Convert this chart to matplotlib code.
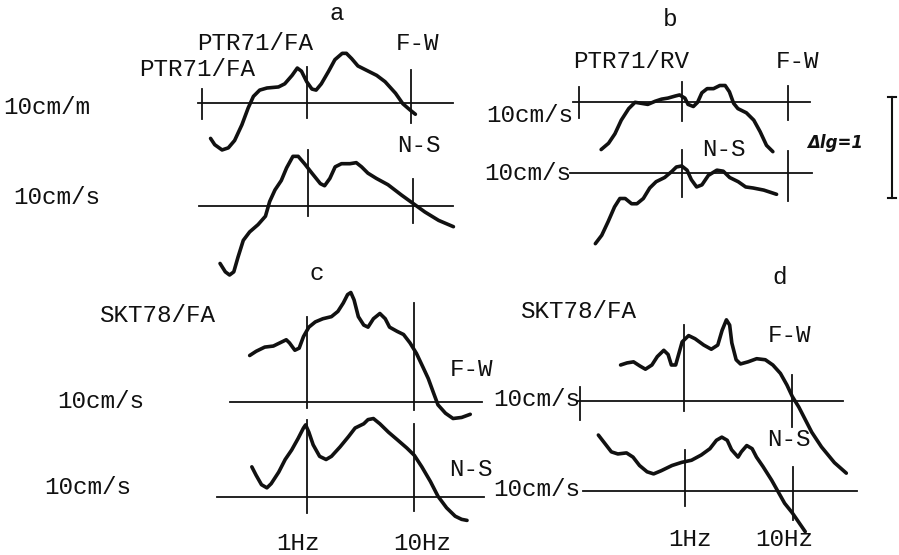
import matplotlib
matplotlib.use("Agg")
import matplotlib.pyplot as plt

W, H = 899, 555
PX_PER_LG = 105          # pixels per lg unit of amplitude
FONT = "Liberation Mono"
INK = "#111111"

# spectra: lg(f / 1 Hz) and lg(A / reference level)
a_fw_lgf = [-0.92, -0.88, -0.81, -0.75, -0.69, -0.62, -0.56, -0.51, -0.45, -0.38,
            -0.27, -0.21, -0.14, -0.09, -0.05, 0.00, 0.05, 0.09, 0.14, 0.21,
            0.27, 0.34, 0.38, 0.43, 0.49, 0.59, 0.67, 0.75, 0.85, 0.92, 0.99, 1.04]
a_fw_lga = [-0.34, -0.40, -0.45, -0.43, -0.36, -0.21, -0.05, 0.06, 0.12, 0.14,
            0.15, 0.18, 0.26, 0.33, 0.30, 0.20, 0.13, 0.12, 0.18, 0.30,
            0.41, 0.47, 0.47, 0.42, 0.35, 0.30, 0.26, 0.20, 0.09, -0.01, -0.07, -0.11]

a_ns_lgf = [-0.83, -0.78, -0.74, -0.70, -0.66, -0.61, -0.55, -0.47, -0.40, -0.36,
            -0.31, -0.25, -0.20, -0.14, -0.09, -0.03, 0.04, 0.12, 0.16, 0.21,
            0.26, 0.32, 0.40, 0.46, 0.51, 0.57, 0.65, 0.76, 0.89, 1.00, 1.11, 1.24, 1.38]
a_ns_lga = [-0.55, -0.63, -0.66, -0.63, -0.49, -0.33, -0.25, -0.18, -0.10, 0.04,
            0.15, 0.24, 0.36, 0.47, 0.47, 0.40, 0.31, 0.21, 0.19, 0.26,
            0.37, 0.40, 0.40, 0.41, 0.37, 0.31, 0.26, 0.20, 0.10, 0.02, -0.06, -0.14, -0.20]

b_fw_lgf = [-0.76, -0.69, -0.63, -0.57, -0.50, -0.44, -0.38, -0.32, -0.25, -0.19,
            -0.13, -0.06, -0.02, 0.03, 0.06, 0.11, 0.15, 0.19, 0.24, 0.30,
            0.36, 0.41, 0.45, 0.49, 0.53, 0.61, 0.68, 0.74, 0.80, 0.86]
b_fw_lga = [-0.45, -0.39, -0.30, -0.17, -0.06, 0.00, -0.01, -0.02, 0.01, 0.03,
            0.04, 0.06, 0.07, 0.04, -0.02, -0.04, 0.00, 0.09, 0.13, 0.13,
            0.16, 0.16, 0.10, -0.01, -0.06, -0.10, -0.17, -0.28, -0.41, -0.47]

b_ns_lgf = [-0.81, -0.75, -0.69, -0.63, -0.58, -0.53, -0.47, -0.42, -0.36, -0.30,
            -0.24, -0.16, -0.09, -0.05, 0.00, 0.05, 0.09, 0.14, 0.19, 0.25,
            0.33, 0.39, 0.45, 0.53, 0.60, 0.67, 0.77, 0.83, 0.89]
b_ns_lga = [-0.67, -0.59, -0.46, -0.32, -0.24, -0.24, -0.29, -0.29, -0.24, -0.14,
            -0.08, -0.04, 0.02, 0.06, 0.07, 0.03, -0.06, -0.13, -0.11, -0.02,
            0.03, 0.02, -0.04, -0.08, -0.13, -0.14, -0.16, -0.18, -0.20]

c_fw_lgf = [-0.53, -0.47, -0.39, -0.31, -0.25, -0.19, -0.16, -0.11, -0.07, -0.03,
            0.02, 0.08, 0.15, 0.23, 0.29, 0.34, 0.38, 0.41, 0.44, 0.48,
            0.53, 0.57, 0.62, 0.68, 0.73, 0.77, 0.84, 0.90, 0.96, 1.02,
            1.08, 1.13, 1.18, 1.22, 1.29, 1.36, 1.44, 1.52]
c_fw_lga = [0.44, 0.48, 0.52, 0.53, 0.56, 0.59, 0.56, 0.49, 0.51, 0.62,
            0.71, 0.76, 0.79, 0.81, 0.86, 0.94, 1.02, 1.04, 0.97, 0.81,
            0.73, 0.71, 0.79, 0.84, 0.79, 0.71, 0.67, 0.64, 0.56, 0.46,
            0.33, 0.22, 0.08, -0.03, -0.11, -0.16, -0.15, -0.12]

c_ns_lgf = [-0.51, -0.47, -0.42, -0.37, -0.33, -0.26, -0.20, -0.14, -0.08, -0.03,
            -0.01, 0.02, 0.06, 0.12, 0.18, 0.23, 0.31, 0.39, 0.45, 0.53,
            0.57, 0.62, 0.68, 0.76, 0.84, 0.93, 1.00, 1.07, 1.15, 1.22,
            1.30, 1.38, 1.44, 1.49]
c_ns_lga = [0.29, 0.21, 0.12, 0.09, 0.13, 0.24, 0.36, 0.45, 0.56, 0.66,
            0.69, 0.62, 0.50, 0.39, 0.36, 0.39, 0.48, 0.58, 0.66, 0.70,
            0.74, 0.75, 0.70, 0.62, 0.55, 0.47, 0.40, 0.29, 0.15, 0.01,
            -0.10, -0.18, -0.21, -0.22]

d_fw_lgf = [-0.59, -0.53, -0.47, -0.41, -0.36, -0.30, -0.25, -0.19, -0.15, -0.12,
            -0.08, -0.05, -0.02, 0.04, 0.10, 0.18, 0.25, 0.31, 0.35, 0.39,
            0.42, 0.44, 0.48, 0.52, 0.59, 0.67, 0.75, 0.82, 0.89, 0.95,
            1.00, 1.06, 1.12, 1.18, 1.27, 1.39, 1.50]
d_fw_lga = [0.34, 0.36, 0.37, 0.33, 0.30, 0.34, 0.42, 0.48, 0.44, 0.34,
            0.34, 0.45, 0.56, 0.62, 0.59, 0.53, 0.49, 0.53, 0.67, 0.77,
            0.72, 0.55, 0.39, 0.35, 0.37, 0.40, 0.39, 0.34, 0.26, 0.15,
            0.04, -0.06, -0.18, -0.30, -0.44, -0.59, -0.69]

d_ns_lgf = [-0.80, -0.74, -0.68, -0.62, -0.54, -0.48, -0.42, -0.35, -0.29, -0.22,
            -0.12, -0.03, 0.06, 0.15, 0.23, 0.29, 0.34, 0.39, 0.43, 0.49,
            0.52, 0.57, 0.62, 0.66, 0.72, 0.80, 0.86, 0.92, 0.99, 1.05, 1.11]
d_ns_lga = [0.53, 0.45, 0.37, 0.35, 0.36, 0.32, 0.24, 0.18, 0.16, 0.19,
            0.24, 0.27, 0.29, 0.34, 0.40, 0.48, 0.51, 0.48, 0.39, 0.32,
            0.37, 0.43, 0.40, 0.32, 0.23, 0.10, -0.01, -0.12, -0.21, -0.30, -0.39]

# where each spectrum sits on the sheet:
# pixel x of 1 Hz, pixel x of 10 Hz, pixel row of the reference level,
# extent of the reference line (lg f), decade marks (lg f, top, bottom in lg A)
frames = {
    "a_fw": (306.7, 411.2, 102.7, (-1.04, 1.40),
             [(-1.0, 0.13, -0.16), (0.0, 0.34, -0.15), (1.0, 0.31, -0.19)]),
    "a_ns": (307.7, 413.3, 205.7, (-1.03, 1.38),
             [(0.0, 0.53, -0.10), (1.0, 0.25, -0.16)]),
    "b_fw": (681.7, 787.7, 102.3, (-1.03, 1.21),
             [(-0.97, 0.15, -0.15), (0.0, 0.19, -0.18), (1.0, 0.16, -0.17)]),
    "b_ns": (681.7, 788.3, 173.3, (-1.05, 1.22),
             [(0.0, 0.22, -0.23), (1.0, 0.21, -0.26)]),
    "c_fw": (306.7, 414.3, 401.7, (-0.71, 1.63),
             [(0.0, 0.81, -0.06), (1.0, 0.94, -0.08)]),
    "c_ns": (306.7, 414.3, 497.3, (-0.83, 1.65),
             [(0.0, 0.74, -0.15), (1.0, 0.70, -0.13)]),
    "d_fw": (684.3, 792.3, 400.7, (-0.98, 1.47),
             [(-0.97, 0.13, -0.18), (0.0, 0.72, -0.10), (1.0, 0.24, -0.25)]),
    "d_ns": (685.0, 793.3, 490.7, (-0.94, 1.59),
             [(0.0, 0.39, -0.15), (1.0, 0.23, -0.28)]),
}

spectra = {
    "a_fw": (a_fw_lgf, a_fw_lga), "a_ns": (a_ns_lgf, a_ns_lga),
    "b_fw": (b_fw_lgf, b_fw_lga), "b_ns": (b_ns_lgf, b_ns_lga),
    "c_fw": (c_fw_lgf, c_fw_lga), "c_ns": (c_ns_lgf, c_ns_lga),
    "d_fw": (d_fw_lgf, d_fw_lga), "d_ns": (d_ns_lgf, d_ns_lga),
}

# lettering (pixel centre positions)
labels = [
    (337, 14, "a"), (255, 43, "PTR71/FA"), (197, 69, "PTR71/FA"), (417, 43, "F-W"),
    (47, 108, "10cm/m"), (419, 146, "N-S"), (57, 197, "10cm/s"), (317, 274, "c"),
    (670, 20, "b"), (631, 62, "PTR71/RV"), (797, 62, "F-W"), (530, 115, "10cm/s"),
    (724, 149, "N-S"), (528, 173, "10cm/s"),
    (157, 315, "SKT78/FA"), (471, 370, "F-W"), (101, 402, "10cm/s"),
    (471, 470, "N-S"), (88, 488, "10cm/s"), (298, 543, "1Hz"), (422, 543, "10Hz"),
    (780, 278, "d"), (578, 311, "SKT78/FA"), (789, 335, "F-W"), (537, 399, "10cm/s"),
    (789, 440, "N-S"), (537, 490, "10cm/s"), (690, 539, "1Hz"), (784, 539, "10Hz"),
]


def sheet_axes(fig, x1, x10, y0):
    """transparent axes over the whole sheet, in lg f / lg A units"""
    sx = x10 - x1
    ax = fig.add_axes([0, 0, 1, 1])
    ax.set_xlim(-x1 / sx, (W - x1) / sx)
    ax.set_ylim(-(H - y0) / PX_PER_LG, y0 / PX_PER_LG)
    ax.axis("off")
    ax.patch.set_visible(False)
    return ax


fig = plt.figure(figsize=(W / 100, H / 100), dpi=100)
fig.patch.set_facecolor("white")

for key, (lgf, lga) in spectra.items():
    x1, x10, y0, (lo, hi), ticks = frames[key]
    ax = sheet_axes(fig, x1, x10, y0)
    ax.plot([lo, hi], [0, 0], color=INK, lw=1.3)
    for t, top, bot in ticks:
        ax.plot([t, t], [bot, top], color=INK, lw=1.3)
    ax.plot(lgf, lga, color=INK, lw=2.6,
            solid_capstyle="round", solid_joinstyle="round")

# text layer in pixel coordinates
tx = fig.add_axes([0, 0, 1, 1])
tx.set_xlim(0, W)
tx.set_ylim(H, 0)
tx.axis("off")
tx.patch.set_visible(False)

for x, y, s in labels:
    tx.text(x, y, s, ha="center", va="center", fontsize=17.5,
            family=FONT, color=INK)

# scale bar: one decade of amplitude
tx.plot([891.7, 891.7], [96.7, 198.3], color=INK, lw=1.5)
tx.plot([888, 896], [96.7, 96.7], color=INK, lw=1.5)
tx.plot([888, 896], [198.3, 198.3], color=INK, lw=1.5)
tx.text(835, 143, "Δlg=1", ha="center", va="center", fontsize=12,
        fontweight="bold", fontstyle="italic", family="DejaVu Sans", color=INK)

fig.savefig("out.png", dpi=100)
